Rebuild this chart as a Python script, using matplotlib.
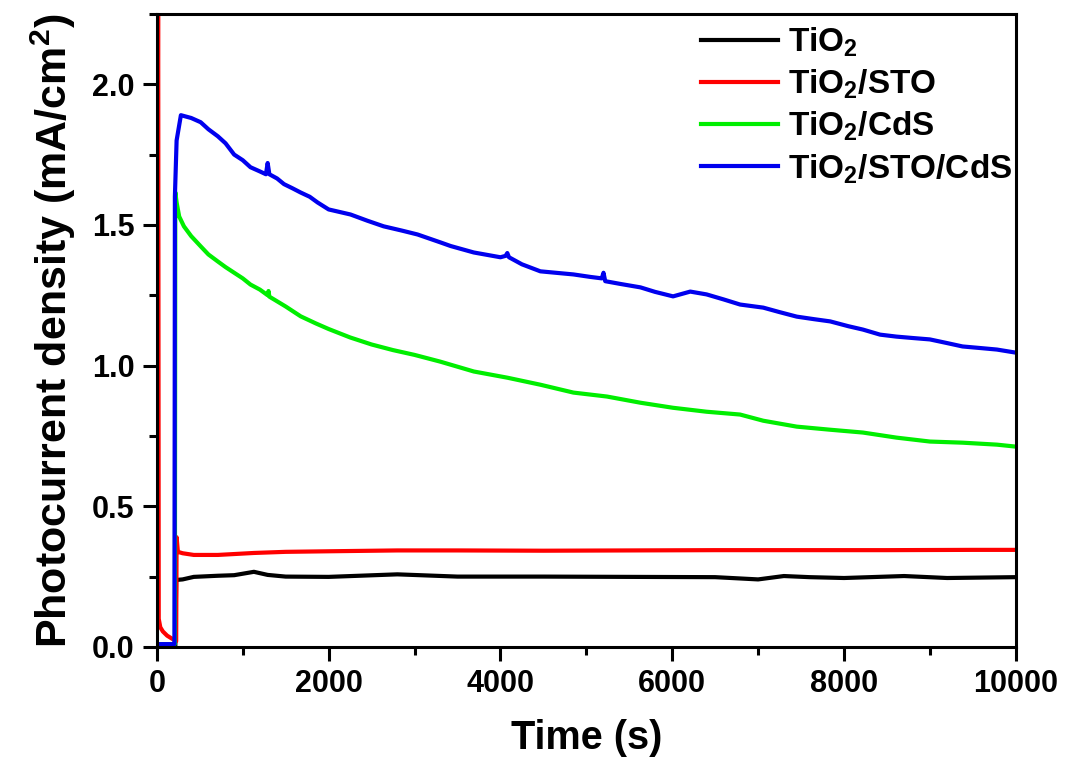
import matplotlib
matplotlib.use("Agg")
import matplotlib.pyplot as plt
from matplotlib.ticker import MultipleLocator

plt.rcParams['font.family'] = ['Liberation Sans', 'DejaVu Sans']
plt.rcParams['font.weight'] = 'bold'
plt.rcParams['mathtext.fontset'] = 'custom'
plt.rcParams['mathtext.rm'] = 'Liberation Sans:bold'
plt.rcParams['mathtext.it'] = 'Liberation Sans:bold'
plt.rcParams['mathtext.bf'] = 'Liberation Sans:bold'

# ---- data ----
labels = ['TiO$_2$', 'TiO$_2$/STO', 'TiO$_2$/CdS', 'TiO$_2$/STO/CdS']
colors = ['#000000', '#ff0000', '#00ee00', '#0000ee']

t_black = [0, 215, 225, 300, 430, 710, 900, 1130, 1290, 1500, 2000, 2800, 3500, 4500,
           5500, 6500, 7000, 7300, 7600, 8000, 8700, 9200, 10000]
v_black = [0.0, 0.0, 0.238, 0.24, 0.249, 0.253, 0.255, 0.267, 0.256, 0.25, 0.249, 0.258,
           0.25, 0.25, 0.249, 0.248, 0.24, 0.252, 0.248, 0.245, 0.252, 0.245, 0.248]

t_red = [0, 15, 22, 40, 70, 120, 200, 225, 230, 245, 300, 430, 710, 1130, 1500, 2000,
         2800, 3500, 4500, 5500, 6500, 7500, 8500, 9500, 10000]
v_red = [0.0, 2.5, 0.10, 0.07, 0.055, 0.04, 0.025, 0.02, 0.39, 0.338, 0.333, 0.327,
         0.327, 0.334, 0.338, 0.34, 0.343, 0.343, 0.342, 0.343, 0.344, 0.344, 0.344,
         0.345, 0.345]

t_green = [0, 210, 215, 230, 260, 315, 400, 510, 600, 710, 800, 900, 1000, 1090, 1200,
           1290, 1300, 1310, 1500, 1675, 1850, 2000, 2250, 2500, 2750, 3000, 3300, 3690,
           4080, 4465, 4850, 5240, 5630, 6010, 6400, 6790, 7060, 7450, 7840, 8220, 8610,
           9000, 9380, 9780, 10000]
v_green = [0.01, 0.01, 1.616, 1.58, 1.53, 1.495, 1.46, 1.424, 1.395, 1.37, 1.35, 1.33,
           1.31, 1.288, 1.27, 1.25, 1.265, 1.245, 1.21, 1.175, 1.15, 1.13, 1.10, 1.075,
           1.055, 1.038, 1.014, 0.979, 0.957, 0.932, 0.904, 0.89, 0.868, 0.85, 0.836,
           0.826, 0.804, 0.783, 0.772, 0.762, 0.744, 0.73, 0.726, 0.719, 0.712]

t_blue = [0, 205, 210, 230, 280, 400, 510, 600, 710, 800, 900, 1000, 1090, 1200, 1270,
          1290, 1310, 1400, 1480, 1580, 1675, 1780, 1870, 2000, 2255, 2450, 2640, 2850,
          3035, 3300, 3420, 3690, 4000, 4060, 4080, 4100, 4250, 4465, 4850, 5050, 5180,
          5200, 5220, 5400, 5630, 5800, 6010, 6210, 6400, 6600, 6790, 7060, 7250, 7450,
          7650, 7840, 8050, 8220, 8420, 8610, 8800, 9000, 9200, 9380, 9600, 9780, 10000]
v_blue = [0.01, 0.01, 1.60, 1.80, 1.89, 1.88, 1.865, 1.84, 1.815, 1.79, 1.75, 1.73,
          1.705, 1.69, 1.68, 1.72, 1.68, 1.665, 1.645, 1.63, 1.615, 1.60, 1.58, 1.555,
          1.537, 1.515, 1.495, 1.48, 1.466, 1.438, 1.425, 1.402, 1.385, 1.39, 1.40,
          1.385, 1.36, 1.335, 1.324, 1.315, 1.31, 1.33, 1.30, 1.29, 1.278, 1.262, 1.246,
          1.263, 1.253, 1.235, 1.217, 1.206, 1.19, 1.174, 1.165, 1.157, 1.14, 1.128,
          1.11, 1.103, 1.098, 1.093, 1.08, 1.068, 1.062, 1.057, 1.046]

series = [(t_black, v_black), (t_red, v_red), (t_green, v_green), (t_blue, v_blue)]

fig = plt.figure(figsize=(10.67, 7.72), dpi=100)
ax = fig.add_axes([0.147, 0.162, 0.805, 0.820])

for (t, v), lab, c in zip(series, labels, colors):
    ax.plot(t, v, color=c, lw=3.0, label=lab)

ax.set_xlim(0, 10000)
ax.set_ylim(0, 2.25)
ax.xaxis.set_major_locator(MultipleLocator(2000))
ax.xaxis.set_minor_locator(MultipleLocator(1000))
ax.yaxis.set_major_locator(MultipleLocator(0.5))
ax.yaxis.set_minor_locator(MultipleLocator(0.25))
ax.yaxis.set_major_formatter(matplotlib.ticker.FormatStrFormatter('%.1f'))

for s in ax.spines.values():
    s.set_linewidth(2.2)
ax.tick_params(which='major', direction='out', length=10, width=2.2, labelsize=22, pad=6)
ax.tick_params(which='minor', direction='out', length=6, width=2.2)
ax.tick_params(top=False, right=False, which='both')
for lab in ax.get_xticklabels() + ax.get_yticklabels():
    lab.set_fontweight('bold')

ax.set_xlabel('Time (s)', fontsize=28.5, fontweight='bold', labelpad=14)
ax.set_ylabel('Photocurrent density (mA/cm$^2$)', fontsize=31, fontweight='bold', labelpad=10)

leg = ax.legend(loc='upper right', frameon=False, fontsize=24, handlelength=2.3,
                handletextpad=0.3, labelspacing=0.26, borderaxespad=0.0,
                bbox_to_anchor=(1.011, 1.002))
for line in leg.get_lines():
    line.set_linewidth(3)

fig.savefig('out.png', dpi=100, facecolor='white')
